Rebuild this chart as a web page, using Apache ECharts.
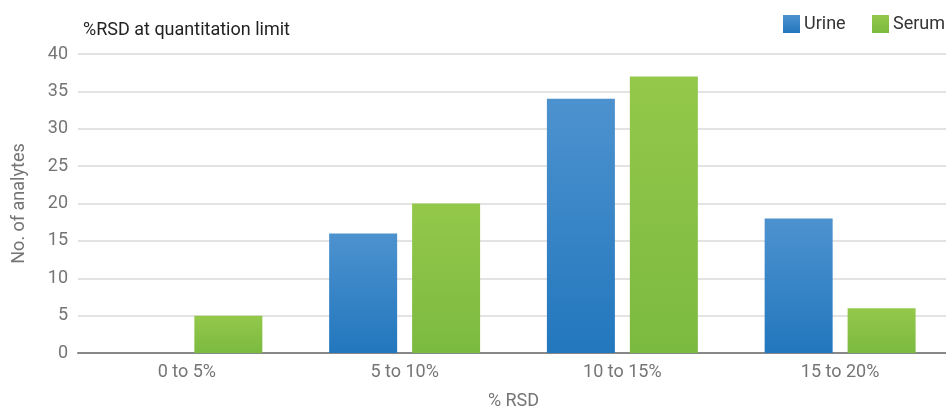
<!DOCTYPE html>
<html>
<head>
<meta charset="utf-8">
<script src="https://cdn.jsdelivr.net/npm/echarts@6/dist/echarts.min.js"></script>
<style>
  html, body { margin: 0; padding: 0; background: #fff; }
  #chart { width: 946px; height: 407px; }
</style>
</head>
<body>
<div id="chart"></div>
<script>
// RSD bins and analyte counts per matrix
const categories = ['0 to 5%', '5 to 10%', '10 to 15%', '15 to 20%'];
const urine = [0, 16, 34, 18];
const serum = [5, 20, 37, 6];
const yTicks = { min: 0, max: 40, interval: 5 };

const FONT = 'Roboto';
const FS = 18;

function grad(top, bottom) {
  return new echarts.graphic.LinearGradient(0, 0, 0, 1, [
    { offset: 0, color: top },
    { offset: 1, color: bottom }
  ]);
}

// one legend block per series so the right-hand entry may run up to the edge
function legendAt(left, name) {
  return {
    left: left, top: 15, padding: 0,
    itemWidth: 17, itemHeight: 18,
    icon: 'rect',
    textStyle: { fontFamily: FONT, fontSize: FS, color: '#333', padding: [0, 0, 0, -1] },
    data: [name]
  };
}

const chart = echarts.init(document.getElementById('chart'), null, { renderer: 'canvas' });
chart.setOption({
  animation: false,
  textStyle: { fontFamily: FONT },
  title: {
    text: '%RSD at quantitation limit',
    left: 78, top: 16,
    textStyle: { fontFamily: FONT, fontSize: FS, fontWeight: 'normal', color: '#222' }
  },
  legend: [legendAt(783, 'Urine'), legendAt(872, 'Serum')],
  grid: { left: 78, right: -3, top: 54, bottom: 54, containLabel: false, outerBoundsMode: 'none' },
  xAxis: {
    type: 'category',
    data: categories,
    name: '% RSD',
    nameLocation: 'middle',
    nameGap: 39,
    nameTextStyle: { fontFamily: FONT, fontSize: FS, color: '#757575' },
    axisLine: { lineStyle: { color: '#888', width: 2 } },
    axisTick: { show: false },
    axisLabel: { fontFamily: FONT, fontSize: FS, color: '#757575', margin: 10 }
  },
  yAxis: {
    type: 'value',
    min: yTicks.min, max: yTicks.max, interval: yTicks.interval,
    name: 'No. of analytes',
    nameLocation: 'middle',
    nameGap: 50,
    nameTextStyle: { fontFamily: FONT, fontSize: FS, color: '#757575' },
    axisLine: { show: false },
    axisTick: { show: false },
    axisLabel: { fontFamily: FONT, fontSize: FS, color: '#757575', margin: 10 },
    splitLine: { lineStyle: { color: '#e3e3e3', width: 2 } }
  },
  series: [
    {
      name: 'Urine', type: 'bar', data: urine,
      barWidth: 68, barGap: '22%',
      itemStyle: { color: grad('#4d92cf', '#2277bd') }
    },
    {
      name: 'Serum', type: 'bar', data: serum,
      barWidth: 68, barGap: '22%',
      itemStyle: { color: grad('#94c84a', '#7bba40') }
    }
  ]
});
</script>
</body>
</html>
